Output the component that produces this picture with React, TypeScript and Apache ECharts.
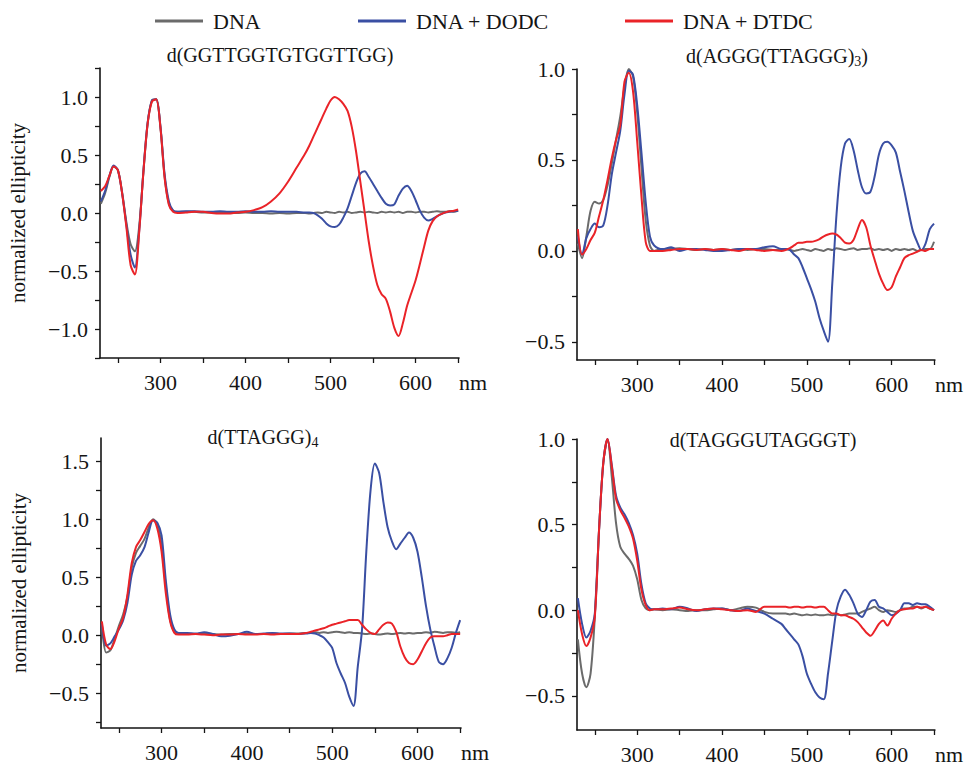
import React, { useEffect, useRef } from "react";
import * as echarts from "echarts";

// wavelengths (nm) shared by all spectra
const WAVELENGTHS = [
  230, 235, 240, 245, 250, 255, 260, 265, 270, 275, 280, 285, 290, 295, 300, 305, 310, 315, 320,
  330, 340, 350, 360, 370, 380, 390, 400, 410, 420, 430, 440, 450, 460,
  470, 475, 480, 485, 490, 495, 500, 505, 510, 515, 520, 525, 530, 535, 540, 545, 550, 555, 560,
  565, 570, 575, 580, 585, 590, 595, 600, 605, 610, 615, 620, 625, 630, 635, 640, 645, 650,
];

const SERIES_NAMES = ["DNA", "DNA + DODC", "DNA + DTDC"];
const PANEL_TITLES = [
  "d(GGTTGGTGTGGTTGG)",
  "d(AGGG(TTAGGG){sub|3})",
  "d(TTAGGG){sub|4}",
  "d(TAGGGUTAGGGT)",
];

const X_LABELS = [300, 400, 500, 600];
const X_TICKS = [250, 300, 350, 400, 450, 500, 550, 600, 650];

// panel 1: d(GGTTGGTGTGGTTGG)
const P1_DNA = [
  0.08, 0.17, 0.31, 0.40, 0.37, 0.18, -0.08, -0.27, -0.33, -0.12, 0.35, 0.77, 0.97, 0.98, 0.74, 0.31, 0.08, 0.02, 0.01,
  0.01, 0.01, 0.005, 0.005, 0.0, 0.005, 0.0, 0.005, 0.0, 0.0, -0.005, 0.0, -0.005, 0.0,
  0.0, -0.005, 0.0, 0.005, 0.0, 0.01, 0.005, 0.0, 0.01, 0.005, 0.01, 0.0, 0.005, 0.01, 0.005, 0.01, 0.005, 0.0, 0.01,
  0.005, 0.01, 0.005, 0.01, 0.0, 0.01, 0.01, 0.005, 0.01, 0.01, 0.005, 0.01, 0.015, 0.01, 0.01, 0.015, 0.01, 0.02,
];
const P1_DODC = [
  0.10, 0.19, 0.32, 0.41, 0.37, 0.17, -0.10, -0.36, -0.47, -0.16, 0.36, 0.78, 0.97, 0.98, 0.75, 0.33, 0.10, 0.02, 0.01,
  0.015, 0.015, 0.01, 0.01, 0.015, 0.01, 0.01, 0.015, 0.01, 0.01, 0.015, 0.01, 0.01, 0.01,
  0.005, 0.005, 0.0, -0.02, -0.05, -0.09, -0.115, -0.12, -0.10, -0.04, 0.04, 0.15, 0.26, 0.34, 0.36, 0.31, 0.25, 0.19, 0.13,
  0.08, 0.065, 0.075, 0.15, 0.21, 0.235, 0.19, 0.11, 0.02, -0.04, -0.065, -0.05, -0.03, -0.01, 0.005, 0.01, 0.015, 0.02,
];
const P1_DTDC = [
  0.19, 0.23, 0.32, 0.40, 0.37, 0.17, -0.12, -0.45, -0.53, -0.17, 0.35, 0.77, 0.96, 0.98, 0.74, 0.30, 0.07, 0.01, 0.0,
  0.005, 0.01, 0.01, 0.0, -0.005, -0.005, 0.005, 0.01, 0.025, 0.05, 0.10, 0.17, 0.27, 0.39,
  0.51, 0.58, 0.66, 0.74, 0.82, 0.90, 0.97, 1.0, 0.98, 0.94, 0.88, 0.74, 0.53, 0.27, 0.01, -0.25, -0.46, -0.62, -0.70,
  -0.74, -0.85, -0.99, -1.06, -0.95, -0.80, -0.69, -0.58, -0.44, -0.29, -0.15, -0.07, -0.03, -0.01, 0.005, 0.015, 0.02, 0.03,
];

// panel 2: d(AGGG(TTAGGG)3)
const P2_DNA = [
  0.04, -0.04, 0.08, 0.22, 0.27, 0.26, 0.28, 0.36, 0.48, 0.61, 0.74, 0.90, 1.0, 0.96, 0.76, 0.46, 0.17, 0.03, 0.0,
  0.01, 0.01, 0.015, 0.01, 0.005, 0.01, 0.005, 0.01, 0.005, 0.01, 0.005, 0.01, 0.01, 0.005,
  0.005, 0.01, 0.005, 0.0, 0.005, 0.01, 0.005, 0.0, 0.01, 0.005, 0.0, 0.01, 0.005, 0.015, 0.01, 0.005, 0.01, 0.015, 0.005,
  0.01, 0.01, 0.015, 0.005, 0.01, 0.005, 0.01, 0.0, 0.01, 0.005, 0.01, 0.005, 0.01, 0.0, 0.005, 0.01, 0.01, 0.05,
];
const P2_DODC = [
  0.08, -0.02, 0.07, 0.12, 0.15, 0.13, 0.14, 0.25, 0.42, 0.54, 0.66, 0.86, 0.99, 0.97, 0.80, 0.54, 0.27, 0.08, 0.03,
  0.01, 0.02, 0.0, 0.01, 0.01, 0.005, 0.0, 0.0, 0.005, 0.01, 0.01, 0.01, 0.02, 0.025,
  0.01, 0.01, 0.005, -0.02, -0.04, -0.09, -0.15, -0.21, -0.28, -0.37, -0.44, -0.50, -0.18, 0.20, 0.46, 0.59, 0.615, 0.555, 0.445,
  0.35, 0.316, 0.325, 0.41, 0.53, 0.59, 0.60, 0.58, 0.54, 0.435, 0.33, 0.215, 0.11, 0.05, 0.004, 0.04, 0.12, 0.15,
];
const P2_DTDC = [
  0.12, -0.02, 0.01, 0.06, 0.10, 0.19, 0.28, 0.39, 0.51, 0.61, 0.69, 0.93, 0.98, 0.88, 0.60, 0.30, 0.05, 0.0, 0.0,
  0.0, 0.005, 0.01, 0.01, 0.005, 0.01, 0.005, 0.01, 0.005, 0.0, 0.01, 0.005, 0.0, 0.005,
  0.0, 0.005, 0.015, 0.03, 0.045, 0.045, 0.05, 0.05, 0.055, 0.065, 0.08, 0.09, 0.095, 0.09, 0.07, 0.045, 0.04, 0.06, 0.12,
  0.17, 0.13, 0.03, -0.05, -0.125, -0.18, -0.215, -0.20, -0.14, -0.09, -0.04, -0.024, -0.015, -0.005, 0.005, 0.0, 0.01, 0.01,
];

// panel 3: d(TTAGGG)4
const P3_DNA = [
  0.09, -0.15, -0.13, -0.03, 0.08, 0.18, 0.33, 0.58, 0.71, 0.77, 0.83, 0.93, 1.0, 0.96, 0.77, 0.42, 0.13, 0.03, 0.01,
  0.01, 0.01, 0.015, 0.01, 0.005, 0.01, 0.01, 0.015, 0.01, 0.01, 0.015, 0.01, 0.015, 0.015,
  0.02, 0.02, 0.025, 0.02, 0.025, 0.02, 0.025, 0.03, 0.025, 0.02, 0.025, 0.02, 0.02, 0.015, 0.01, 0.015, 0.01, 0.005, 0.01,
  0.015, 0.01, 0.015, 0.02, 0.015, 0.02, 0.015, 0.02, 0.02, 0.025, 0.02, 0.03, 0.025, 0.02, 0.025, 0.025, 0.02, 0.025,
];
const P3_DODC = [
  0.10, -0.09, -0.07, -0.01, 0.05, 0.13, 0.28, 0.52, 0.64, 0.69, 0.76, 0.89, 0.99, 0.97, 0.86, 0.47, 0.18, 0.05, 0.02,
  0.02, 0.015, 0.025, 0.01, -0.01, -0.005, 0.01, 0.03, 0.01, 0.015, 0.02, 0.015, 0.015, 0.01,
  0.015, 0.02, 0.015, 0.0, -0.02, -0.06, -0.11, -0.24, -0.33, -0.41, -0.53, -0.61, -0.27, 0.05, 0.72, 1.25, 1.48, 1.40, 1.15,
  0.93, 0.81, 0.74, 0.79, 0.84, 0.885, 0.84, 0.72, 0.50, 0.25, 0.05, -0.10, -0.23, -0.25, -0.20, -0.11, 0.02, 0.13,
];
const P3_DTDC = [
  0.12, -0.08, -0.12, -0.05, 0.06, 0.15, 0.35, 0.62, 0.76, 0.82, 0.89, 0.96, 0.99, 0.92, 0.72, 0.36, 0.12, 0.02, 0.005,
  0.005, 0.01, 0.005, 0.0, 0.005, 0.005, 0.01, 0.005, 0.005, 0.01, 0.005, 0.01, 0.01, 0.01,
  0.02, 0.03, 0.04, 0.05, 0.06, 0.075, 0.09, 0.10, 0.11, 0.12, 0.13, 0.13, 0.13, 0.09, 0.05, 0.02, 0.01, 0.05, 0.09,
  0.11, 0.10, 0.03, -0.10, -0.19, -0.24, -0.25, -0.21, -0.14, -0.07, -0.02, -0.01, -0.01, -0.01, 0.0, 0.01, 0.01, 0.01,
];

// panel 4: d(TAGGGUTAGGGT)
const P4_DNA = [
  -0.17, -0.37, -0.45, -0.37, -0.04, 0.47, 0.86, 1.0, 0.78, 0.51, 0.37, 0.33, 0.30, 0.26, 0.18, 0.06, 0.01, 0.0, 0.005,
  0.0, 0.005, 0.0, -0.005, 0.0, 0.0, 0.005, 0.01, 0.0, 0.01, 0.02, 0.015, -0.01, -0.02,
  -0.02, -0.02, -0.025, -0.02, -0.025, -0.03, -0.025, -0.03, -0.025, -0.03, -0.03, -0.025, -0.03, -0.025, -0.03, -0.025, -0.02, -0.02, -0.02,
  -0.01, 0.0, 0.01, 0.02, 0.0, -0.01, 0.0, -0.005, -0.01, 0.0, 0.01, 0.01, 0.02, 0.02, 0.01, 0.02, 0.01, 0.0,
];
const P4_DODC = [
  0.07, -0.08, -0.16, -0.12, -0.02, 0.47, 0.86, 1.0, 0.85, 0.67, 0.60, 0.56, 0.51, 0.44, 0.33, 0.15, 0.04, 0.01, 0.005,
  0.01, 0.005, 0.02, 0.01, -0.005, 0.005, 0.01, 0.01, 0.0, -0.005, 0.01, -0.005, -0.02, -0.05,
  -0.08, -0.11, -0.14, -0.17, -0.20, -0.27, -0.37, -0.43, -0.48, -0.51, -0.52, -0.37, -0.18, 0.0, 0.08, 0.12, 0.09, 0.04, -0.02,
  -0.04, 0.0, 0.05, 0.06, 0.02, 0.01, -0.01, -0.03, -0.02, 0.0, 0.04, 0.04, 0.03, 0.04, 0.035, 0.035, 0.02, 0.0,
];
const P4_DTDC = [
  0.0, -0.14, -0.21, -0.16, -0.04, 0.47, 0.86, 1.0, 0.84, 0.65, 0.585, 0.54, 0.49, 0.42, 0.29, 0.12, 0.03, 0.0, 0.005,
  0.005, 0.01, 0.015, 0.005, 0.0, 0.005, 0.01, 0.005, 0.0, -0.005, 0.0, -0.01, 0.02, 0.02,
  0.02, 0.02, 0.015, 0.02, 0.02, 0.015, 0.02, 0.02, 0.015, 0.02, 0.02, 0.0, -0.02, -0.02, -0.03, -0.03, -0.04, -0.05, -0.07,
  -0.10, -0.13, -0.15, -0.12, -0.08, -0.06, -0.09, -0.05, -0.02, 0.0, 0.005, 0.01, 0.01, 0.02, 0.015, 0.02, 0.01, 0.0,
];

// y-axis ranges, ticks and labels per panel
const Y_RANGES = [
  [-1.25, 1.25],
  [-0.6, 1.0],
  [-0.8, 1.7],
  [-0.7, 1.0],
];
const Y_TICKS = [
  [-1.25, -1.0, -0.75, -0.5, -0.25, 0, 0.25, 0.5, 0.75, 1.0, 1.25],
  [-0.5, -0.25, 0, 0.25, 0.5, 0.75, 1.0],
  [-0.75, -0.5, -0.25, 0, 0.25, 0.5, 0.75, 1.0, 1.25, 1.5],
  [-0.5, -0.25, 0, 0.25, 0.5, 0.75, 1.0],
];
const Y_LABELS = [
  [-1.0, -0.5, 0, 0.5, 1.0],
  [-0.5, 0, 0.5, 1.0],
  [-0.5, 0, 0.5, 1.0, 1.5],
  [-0.5, 0, 0.5, 1.0],
];

const PANEL_DATA = [
  [P1_DNA, P1_DODC, P1_DTDC],
  [P2_DNA, P2_DODC, P2_DTDC],
  [P3_DNA, P3_DODC, P3_DTDC],
  [P4_DNA, P4_DODC, P4_DTDC],
];

const COLORS = ["#6b6b6b", "#3a4fa3", "#ea2328"];
const FONT = "Liberation Serif";
const INK = "#151515";

const GRIDS = [
  { left: 100, top: 68, width: 359, height: 290 },
  { left: 577, top: 69, width: 358, height: 291 },
  { left: 101, top: 438, width: 360, height: 290 },
  { left: 577, top: 439, width: 358, height: 291 },
];
const TITLE_POS = [
  [280, 55],
  [777, 56],
  [263, 437],
  [763, 440],
];

const fmtY = (v: number) => (v < 0 ? "\u2212" : "") + Math.abs(v).toFixed(1);

export default function App() {
  const ref = useRef<HTMLDivElement>(null);

  useEffect(() => {
    if (!ref.current) return;
    const chart = echarts.init(ref.current, null, { renderer: "svg" });

    const axisLine = { show: true, onZero: false, lineStyle: { color: INK, width: 1.6 } };

    const xAxes = GRIDS.map((_, i) => ({
      type: "value",
      gridIndex: i,
      min: 229,
      max: 651,
      axisLine,
      axisTick: { show: true, length: 5, customValues: X_TICKS, lineStyle: { color: INK, width: 1.3 } },
      axisLabel: {
        customValues: X_LABELS,
        margin: 13,
        color: INK,
        fontFamily: FONT,
        fontSize: 22,
      },
      splitLine: { show: false },
      name: "nm",
      nameLocation: "end",
      nameGap: 0,
      nameTextStyle: {
        color: INK,
        fontFamily: FONT,
        fontSize: 22,
        verticalAlign: "top",
        padding: [13, 0, 0, 0],
      },
    }));

    const yAxes = GRIDS.map((_, i) => ({
      type: "value",
      gridIndex: i,
      min: Y_RANGES[i][0],
      max: Y_RANGES[i][1],
      axisLine,
      axisTick: { show: true, length: 5, customValues: Y_TICKS[i], lineStyle: { color: INK, width: 1.3 } },
      axisLabel: {
        customValues: Y_LABELS[i],
        formatter: fmtY,
        margin: 12,
        color: INK,
        fontFamily: FONT,
        fontSize: 22,
      },
      splitLine: { show: false },
      name: i % 2 === 0 ? "normalized ellipticity" : "",
      nameLocation: "middle",
      nameGap: 72,
      nameTextStyle: { color: INK, fontFamily: FONT, fontSize: 21 },
    }));

    const series: any[] = [];
    PANEL_DATA.forEach((panel, p) => {
      panel.forEach((vals, s) => {
        series.push({
          type: "line",
          name: SERIES_NAMES[s],
          xAxisIndex: p,
          yAxisIndex: p,
          data: WAVELENGTHS.map((w, k) => [w, vals[k]]),
          showSymbol: false,
          symbol: "none",
          smooth: 0.3,
          lineStyle: { color: COLORS[s], width: 2 },
          itemStyle: { color: COLORS[s] },
          z: 2 + s,
        });
      });
    });

    const legendLefts = [155, 358, 625];
    const legend = SERIES_NAMES.map((n, i) => ({
      data: [n],
      left: legendLefts[i],
      top: 10,
      padding: 0,
      icon: "rect",
      itemWidth: 48,
      itemHeight: 3,
      itemGap: 0,
      textStyle: { color: INK, fontFamily: FONT, fontSize: 22, padding: [3, 0, 0, 5] },
      selectedMode: false,
    }));

    const graphic = PANEL_TITLES.map((t, i) => ({
      type: "text",
      x: TITLE_POS[i][0],
      y: TITLE_POS[i][1],
      style: {
        text: t,
        fill: INK,
        fontFamily: FONT,
        fontSize: 20,
        align: "center",
        verticalAlign: "middle",
        lineHeight: 24,
        rich: {
          sub: { fontSize: 14, fontFamily: FONT, fill: INK, verticalAlign: "bottom", lineHeight: 13 },
        },
      },
    }));

    chart.setOption({
      animation: false,
      backgroundColor: "#ffffff",
      textStyle: { fontFamily: FONT },
      grid: GRIDS.map((g) => ({ ...g, containLabel: false })),
      xAxis: xAxes,
      yAxis: yAxes,
      legend,
      graphic,
      series,
    });

    return () => chart.dispose();
  }, []);

  return (
    <div
      ref={ref}
      style={{ position: "fixed", left: 0, top: 0, width: 964, height: 765, background: "#fff" }}
    />
  );
}
